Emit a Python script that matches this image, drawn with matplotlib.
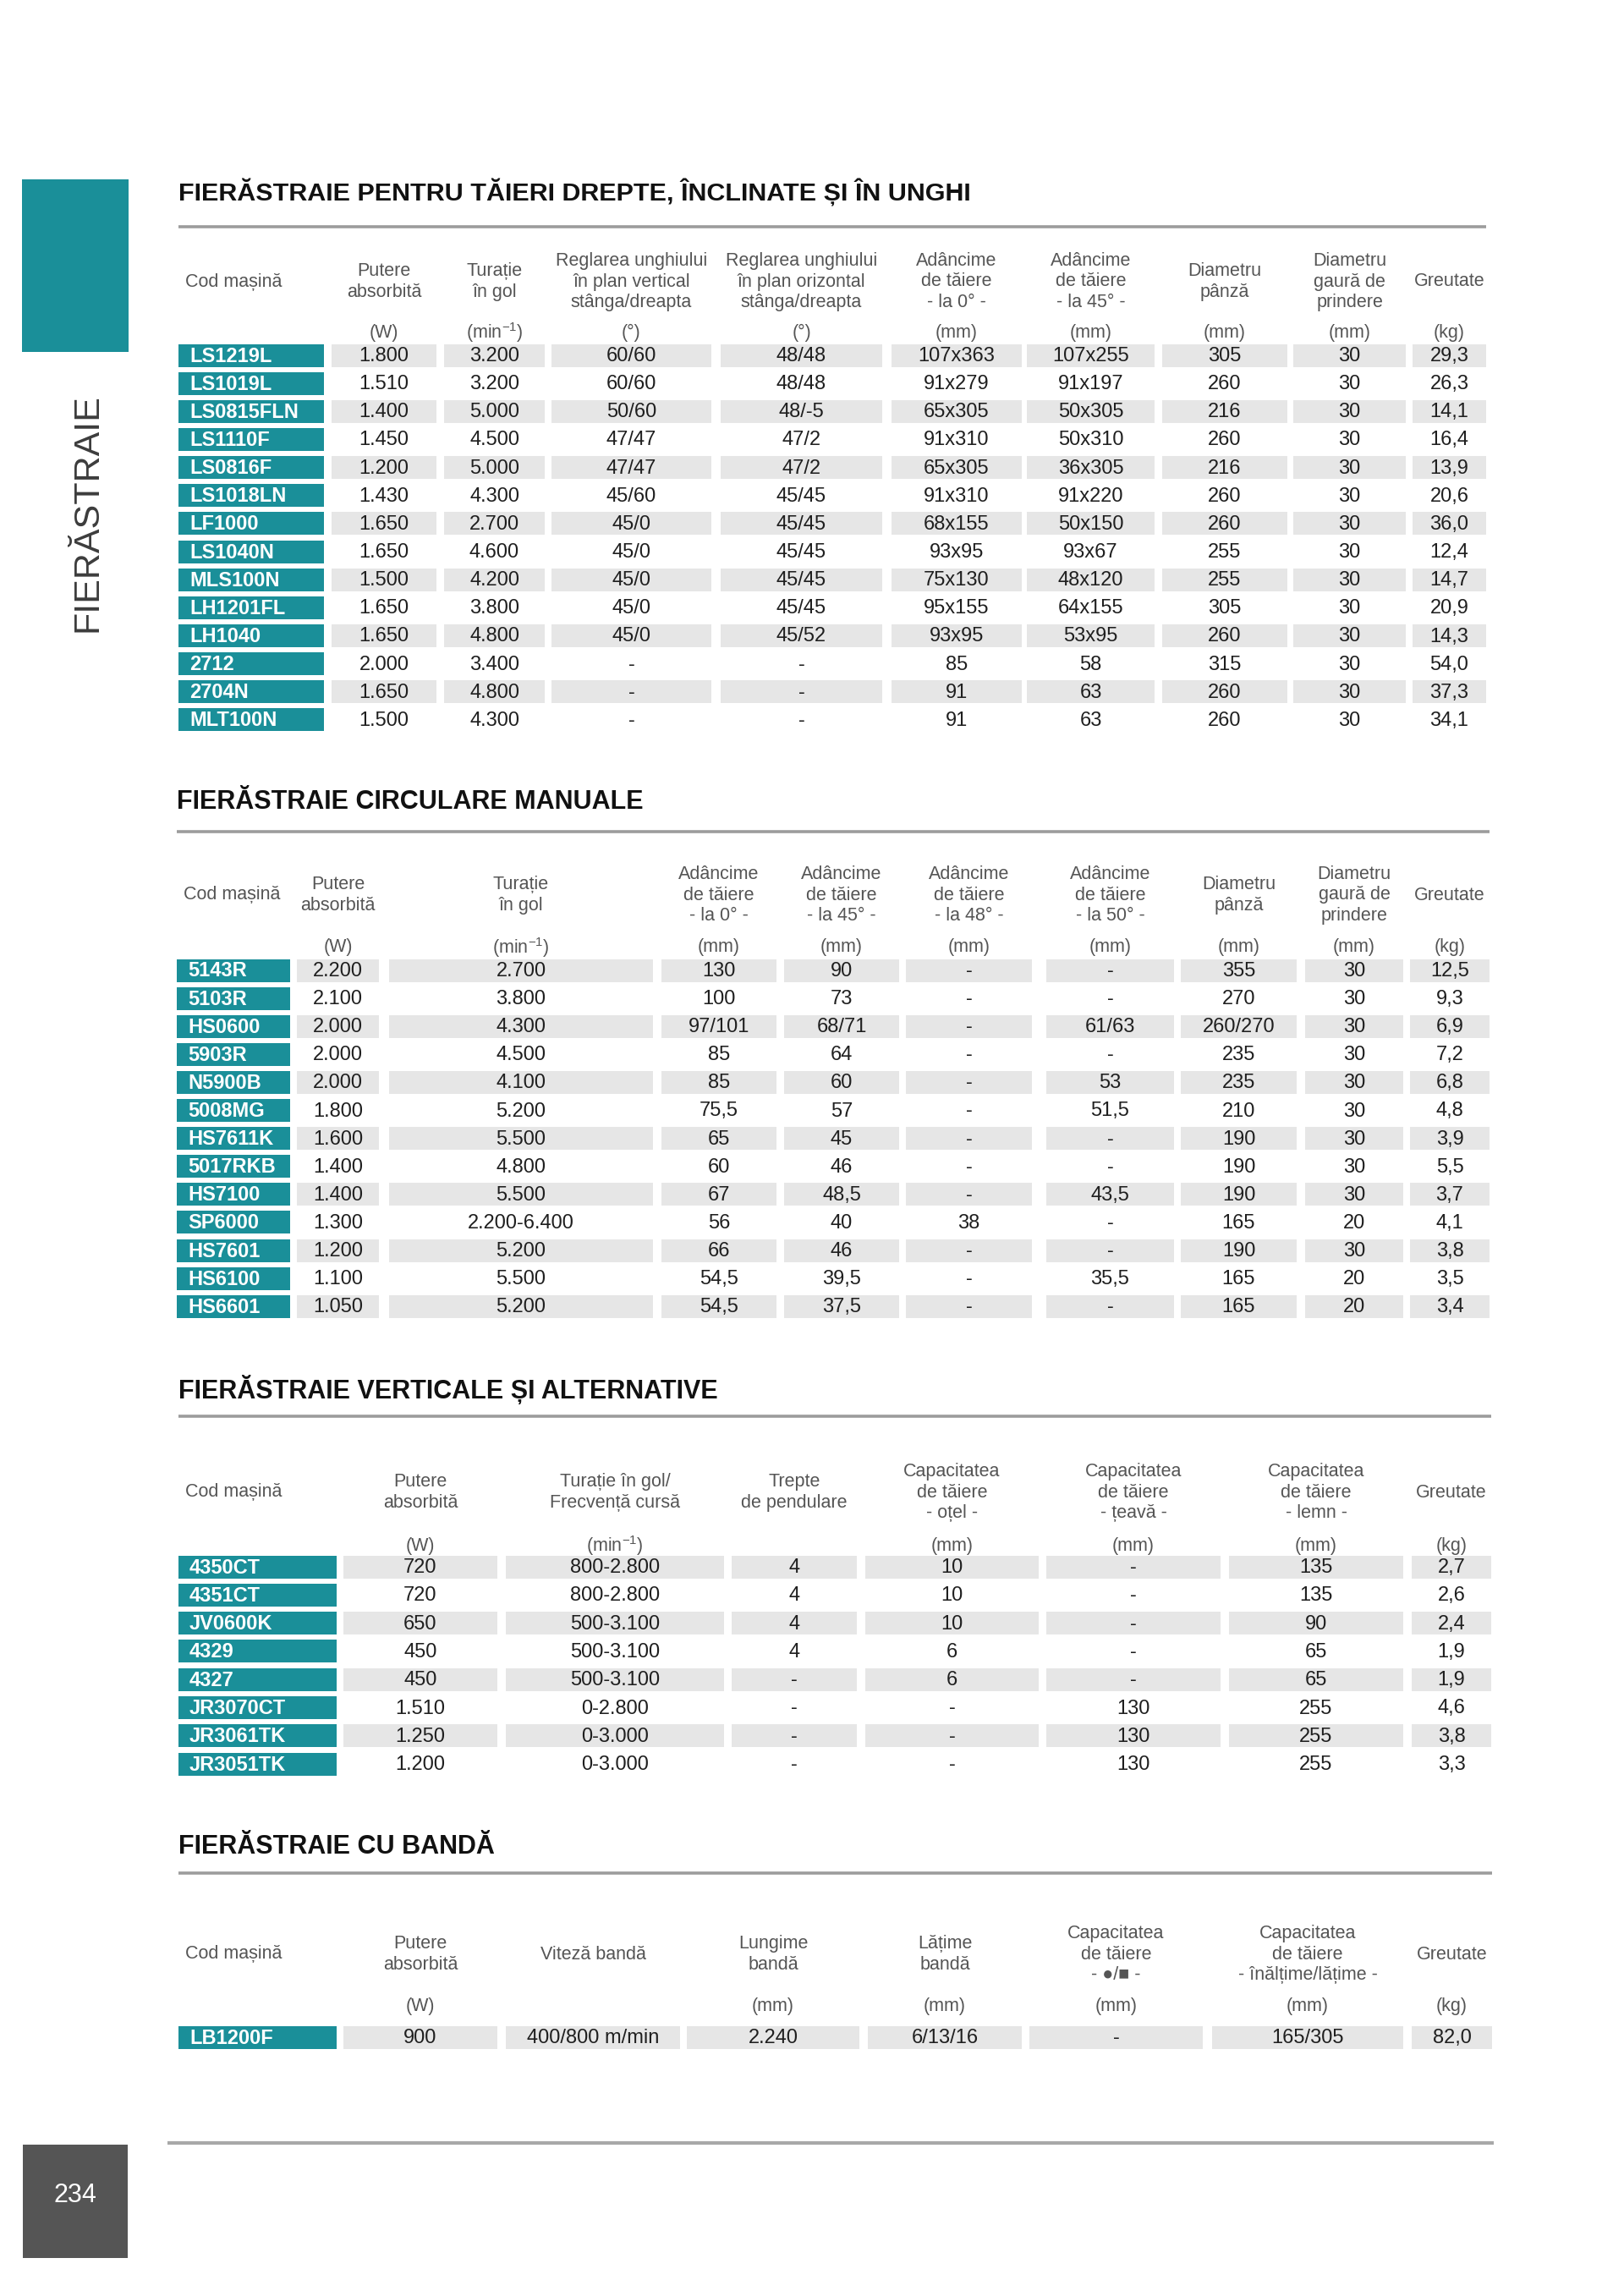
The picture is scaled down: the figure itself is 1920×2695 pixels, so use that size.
import matplotlib
matplotlib.use("Agg")
import matplotlib.pyplot as plt
from matplotlib import font_manager
from matplotlib.patches import Rectangle

# fonturi
names = {f.name for f in font_manager.fontManager.ttflist}
BODY = ['Liberation Sans', 'DejaVu Sans']
TITLE = ['Liberation Sans Narrow', 'Liberation Sans'] if 'Liberation Sans Narrow' in names else ['Liberation Sans']
plt.rcParams['mathtext.fontset'] = 'custom'
plt.rcParams['mathtext.rm'] = 'Liberation Sans'
plt.rcParams['mathtext.it'] = 'Liberation Sans'

TEAL = '#1a8f99'
BAND = '#e6e6e6'
HEAD = '#555555'
VAL = '#1f1f1f'
MIN1 = r'(min$^{-1}$)'

# ---------------- date tabel 1: fierastraie pentru taieri drepte ----------------
t1_title = "FIERĂSTRAIE PENTRU TĂIERI DREPTE, ÎNCLINATE ȘI ÎN UNGHI"
t1_headers = ["Cod mașină", "Putere\nabsorbită", "Turație\nîn gol",
              "Reglarea unghiului\nîn plan vertical\nstânga/dreapta",
              "Reglarea unghiului\nîn plan orizontal\nstânga/dreapta",
              "Adâncime\nde tăiere\n- la 0° -", "Adâncime\nde tăiere\n- la 45° -",
              "Diametru\npânză", "Diametru\ngaură de\nprindere", "Greutate"]
t1_units = ["", "(W)", MIN1, "(°)", "(°)", "(mm)", "(mm)", "(mm)", "(mm)", "(kg)"]
t1_codes = ["LS1219L", "LS1019L", "LS0815FLN", "LS1110F", "LS0816F", "LS1018LN", "LF1000",
            "LS1040N", "MLS100N", "LH1201FL", "LH1040", "2712", "2704N", "MLT100N"]
t1_putere = ["1.800", "1.510", "1.400", "1.450", "1.200", "1.430", "1.650",
             "1.650", "1.500", "1.650", "1.650", "2.000", "1.650", "1.500"]
t1_turatie = ["3.200", "3.200", "5.000", "4.500", "5.000", "4.300", "2.700",
              "4.600", "4.200", "3.800", "4.800", "3.400", "4.800", "4.300"]
t1_vertical = ["60/60", "60/60", "50/60", "47/47", "47/47", "45/60", "45/0",
               "45/0", "45/0", "45/0", "45/0", "-", "-", "-"]
t1_orizontal = ["48/48", "48/48", "48/-5", "47/2", "47/2", "45/45", "45/45",
                "45/45", "45/45", "45/45", "45/52", "-", "-", "-"]
t1_adanc0 = ["107x363", "91x279", "65x305", "91x310", "65x305", "91x310", "68x155",
             "93x95", "75x130", "95x155", "93x95", "85", "91", "91"]
t1_adanc45 = ["107x255", "91x197", "50x305", "50x310", "36x305", "91x220", "50x150",
              "93x67", "48x120", "64x155", "53x95", "58", "63", "63"]
t1_panza = ["305", "260", "216", "260", "216", "260", "260",
            "255", "255", "305", "260", "315", "260", "260"]
t1_gaura = ["30"] * 14
t1_greutate = ["29,3", "26,3", "14,1", "16,4", "13,9", "20,6", "36,0",
               "12,4", "14,7", "20,9", "14,3", "54,0", "37,3", "34,1"]

# ---------------- date tabel 2: fierastraie circulare manuale ----------------
t2_title = "FIERĂSTRAIE CIRCULARE MANUALE"
t2_headers = ["Cod mașină", "Putere\nabsorbită", "Turație\nîn gol",
              "Adâncime\nde tăiere\n- la 0° -", "Adâncime\nde tăiere\n- la 45° -",
              "Adâncime\nde tăiere\n- la 48° -", "Adâncime\nde tăiere\n- la 50° -",
              "Diametru\npânză", "Diametru\ngaură de\nprindere", "Greutate"]
t2_units = ["", "(W)", MIN1, "(mm)", "(mm)", "(mm)", "(mm)", "(mm)", "(mm)", "(kg)"]
t2_codes = ["5143R", "5103R", "HS0600", "5903R", "N5900B", "5008MG", "HS7611K",
            "5017RKB", "HS7100", "SP6000", "HS7601", "HS6100", "HS6601"]
t2_putere = ["2.200", "2.100", "2.000", "2.000", "2.000", "1.800", "1.600",
             "1.400", "1.400", "1.300", "1.200", "1.100", "1.050"]
t2_turatie = ["2.700", "3.800", "4.300", "4.500", "4.100", "5.200", "5.500",
              "4.800", "5.500", "2.200-6.400", "5.200", "5.500", "5.200"]
t2_adanc0 = ["130", "100", "97/101", "85", "85", "75,5", "65",
             "60", "67", "56", "66", "54,5", "54,5"]
t2_adanc45 = ["90", "73", "68/71", "64", "60", "57", "45",
              "46", "48,5", "40", "46", "39,5", "37,5"]
t2_adanc48 = ["-", "-", "-", "-", "-", "-", "-", "-", "-", "38", "-", "-", "-"]
t2_adanc50 = ["-", "-", "61/63", "-", "53", "51,5", "-",
              "-", "43,5", "-", "-", "35,5", "-"]
t2_panza = ["355", "270", "260/270", "235", "235", "210", "190",
            "190", "190", "165", "190", "165", "165"]
t2_gaura = ["30", "30", "30", "30", "30", "30", "30", "30", "30", "20", "30", "20", "20"]
t2_greutate = ["12,5", "9,3", "6,9", "7,2", "6,8", "4,8", "3,9",
               "5,5", "3,7", "4,1", "3,8", "3,5", "3,4"]

# ---------------- date tabel 3: fierastraie verticale si alternative ----------------
t3_title = "FIERĂSTRAIE VERTICALE ȘI ALTERNATIVE"
t3_headers = ["Cod mașină", "Putere\nabsorbită", "Turație în gol/\nFrecvență cursă",
              "Trepte\nde pendulare", "Capacitatea\nde tăiere\n- oțel -",
              "Capacitatea\nde tăiere\n- țeavă -", "Capacitatea\nde tăiere\n- lemn -", "Greutate"]
t3_units = ["", "(W)", MIN1, "", "(mm)", "(mm)", "(mm)", "(kg)"]
t3_codes = ["4350CT", "4351CT", "JV0600K", "4329", "4327", "JR3070CT", "JR3061TK", "JR3051TK"]
t3_putere = ["720", "720", "650", "450", "450", "1.510", "1.250", "1.200"]
t3_turatie = ["800-2.800", "800-2.800", "500-3.100", "500-3.100", "500-3.100",
              "0-2.800", "0-3.000", "0-3.000"]
t3_trepte = ["4", "4", "4", "4", "-", "-", "-", "-"]
t3_otel = ["10", "10", "10", "6", "6", "-", "-", "-"]
t3_teava = ["-", "-", "-", "-", "-", "130", "130", "130"]
t3_lemn = ["135", "135", "90", "65", "65", "255", "255", "255"]
t3_greutate = ["2,7", "2,6", "2,4", "1,9", "1,9", "4,6", "3,8", "3,3"]

# ---------------- date tabel 4: fierastraie cu banda ----------------
t4_title = "FIERĂSTRAIE CU BANDĂ"
t4_headers = ["Cod mașină", "Putere\nabsorbită", "Viteză bandă", "Lungime\nbandă",
              "Lățime\nbandă", "Capacitatea\nde tăiere\n- ●/■ -",
              "Capacitatea\nde tăiere\n- înălțime/lățime -", "Greutate"]
t4_units = ["", "(W)", "", "(mm)", "(mm)", "(mm)", "(mm)", "(kg)"]
t4_codes = ["LB1200F"]
t4_putere = ["900"]
t4_viteza = ["400/800 m/min"]
t4_lungime = ["2.240"]
t4_latime = ["6/13/16"]
t4_cap = ["-"]
t4_inaltime = ["165/305"]
t4_greutate = ["82,0"]

# ---------------- pagina ----------------
W, H = 1920, 2695
fig = plt.figure(figsize=(W / 100, H / 100), dpi=100)
ax = fig.add_axes([0, 0, 1, 1])
ax.set_xlim(0, W)
ax.set_ylim(H, 0)
ax.axis('off')
renderer = fig.canvas.get_renderer()


def fit_width(t, width):
    w = t.get_window_extent(renderer).width
    t.set_fontsize(t.get_fontsize() * width / w)


def draw_table(title, title_y, rule_y, edges, headers, units, head_y, unit_y,
               codes, columns, row0, pitch):
    left, right = edges[0][0], edges[-1][1]
    t = ax.text(left, title_y, title, fontsize=21, fontweight='bold', family=TITLE,
                color='#111111', va='center', ha='left')
    return_t = t
    ax.plot([left, right], [rule_y, rule_y], color='#9c9c9c', lw=2.6, solid_capstyle='butt')
    # capete de tabel
    for j, (x0, x1) in enumerate(edges):
        if j == 0:
            ax.text(x0 + 8, head_y, headers[j], fontsize=15.5, family=BODY, color=HEAD,
                    ha='left', va='center')
            continue
        xc = (x0 + x1) / 2
        ax.text(xc, head_y, headers[j], fontsize=15.5, family=BODY, color=HEAD,
                ha='center', va='center', multialignment='center', linespacing=1.22)
        if units[j]:
            ax.text(xc, unit_y, units[j], fontsize=15.5, family=BODY, color=HEAD,
                    ha='center', va='center')
    # randuri
    for i, code in enumerate(codes):
        yc = row0 + i * pitch
        x0, x1 = edges[0]
        ax.add_patch(Rectangle((x0, yc - 13.5), x1 - x0, 27, color=TEAL, lw=0))
        ax.text(x0 + 13, yc + 1, code, fontsize=17, fontweight='bold', family=BODY,
                color='white', ha='left', va='center')
        for j, col in enumerate(columns, start=1):
            cx0, cx1 = edges[j]
            if i % 2 == 0:
                ax.add_patch(Rectangle((cx0, yc - 13.5), cx1 - cx0, 27, color=BAND, lw=0))
            ax.text((cx0 + cx1) / 2, yc + 1, col[i], fontsize=17, family=BODY, color=VAL,
                    ha='center', va='center')
    return return_t


titles = []
titles.append((draw_table(
    t1_title, 227, 268,
    [(211, 383), (392, 516), (525, 644), (652, 841), (852, 1043), (1054, 1208),
     (1214, 1365), (1374, 1522), (1529, 1662), (1670, 1757)],
    t1_headers, t1_units, 333, 393, t1_codes,
    [t1_putere, t1_turatie, t1_vertical, t1_orizontal, t1_adanc0, t1_adanc45,
     t1_panza, t1_gaura, t1_greutate], 420, 33.15), 939))

titles.append((draw_table(
    t2_title, 948, 983,
    [(209, 343), (351, 448), (460, 772), (782, 918), (927, 1063), (1071, 1220),
     (1237, 1388), (1396, 1533), (1543, 1659), (1667, 1761)],
    t2_headers, t2_units, 1058, 1120, t2_codes,
    [t2_putere, t2_turatie, t2_adanc0, t2_adanc45, t2_adanc48, t2_adanc50,
     t2_panza, t2_gaura, t2_greutate], 1147, 33.1), 553))

titles.append((draw_table(
    t3_title, 1642, 1674,
    [(211, 398), (406, 588), (598, 856), (865, 1013), (1023, 1228), (1237, 1443),
     (1453, 1659), (1669, 1763)],
    t3_headers, t3_units, 1764, 1827, t3_codes,
    [t3_putere, t3_turatie, t3_trepte, t3_otel, t3_teava, t3_lemn, t3_greutate],
    1852, 33.3), 640))

titles.append((draw_table(
    t4_title, 2183, 2214,
    [(211, 398), (406, 588), (598, 804), (812, 1016), (1026, 1208), (1217, 1422),
     (1433, 1659), (1669, 1764)],
    t4_headers, t4_units, 2310, 2372, t4_codes,
    [t4_putere, t4_viteza, t4_lungime, t4_latime, t4_cap, t4_inaltime, t4_greutate],
    2408, 33.3), 375))

for t, w in titles:
    fit_width(t, w)

# bara laterala
ax.add_patch(Rectangle((26, 212), 126, 204, color=TEAL, lw=0))
ax.text(104, 606, "FIERĂSTRAIE", rotation=90, fontsize=31, family=BODY,
        color='#3c3c3c', ha='center', va='center')

# subsol
ax.plot([198, 1766], [2533, 2533], color='#a8a8a8', lw=3, solid_capstyle='butt')
ax.add_patch(Rectangle((27, 2535), 124, 134, color='#555555', lw=0))
ax.text(89, 2595, "234", fontsize=22, family=BODY, color='white', ha='center', va='center')

fig.savefig("out.png", dpi=100, facecolor='white')
